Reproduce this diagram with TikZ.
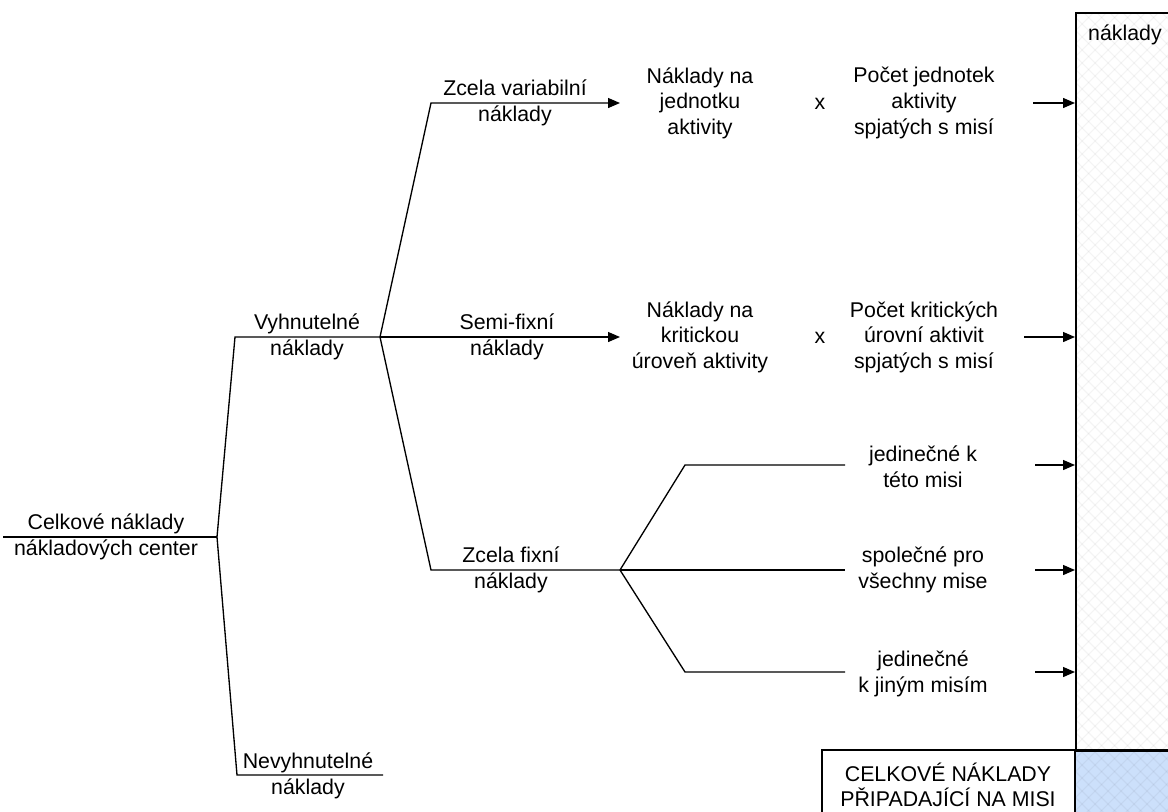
\documentclass[tikz,border=0pt]{standalone}
\usepackage{fontspec}
\setmainfont{Liberation Sans}
\usetikzlibrary{arrows.meta}
\definecolor{missionblue}{HTML}{CCE0FB}
\begin{document}
\begin{tikzpicture}[x=0.75pt,y=-0.75pt,
  lbl/.style={align=center,inner sep=0pt,font=\fontsize{16}{19.2}\selectfont},
  branch/.style={line width=1pt,black},
  feed/.style={line width=1pt,black,-{Stealth[length=9pt,width=7.5pt,inset=0pt]}},
  frame/.style={line width=1.5pt,black}]
\clip (0,0) rectangle (1168,811);
\fill[white] (0,0) rectangle (1168,811);

% ---- hatched totals column ----
\begin{scope}
  \clip (1075,12) rectangle (1200,840);
  \fill[missionblue] (1075,750) rectangle (1200,840);
  \foreach \c in {1080,1093,...,2100}
    \draw[black,opacity=0.045,line width=0.8pt] (\c,0) -- ({\c-840},840);
  \foreach \c in {200,213,...,1200}
    \draw[black,opacity=0.045,line width=0.8pt] (\c,0) -- ({\c+840},840);
\end{scope}
\node[frame,draw,inner sep=0pt,anchor=north west,minimum width=93.75pt,minimum height=553.5pt] (total) at (1075,12) {};
\draw[frame] (822,840) -- (822,750) -- (1200,750);
\draw[frame] (1075,750) -- (1075,840);
\node[lbl] (totlbl) at (1125,35) {náklady};
\node[lbl] (mission) at (948,785) {CELKOVÉ NÁKLADY\\PŘIPADAJÍCÍ NA MISI};

% ---- tree junctions ----
\coordinate (r0) at (3,537);
\coordinate (f0) at (217,537);
\coordinate (v) at (235,337);
\coordinate (v2) at (380,337);
\coordinate (nv) at (237,775);
\coordinate (nv2) at (383,775);
\coordinate (zv) at (431,103);
\coordinate (zvEnd) at (620,103);
\coordinate (sfEnd) at (620,337);
\coordinate (zf) at (431,570);
\coordinate (f1) at (620,570);
\coordinate (u) at (685,465);
\coordinate (uEnd) at (845,465);
\coordinate (cEnd) at (845,570);
\coordinate (o) at (685,672);
\coordinate (oEnd) at (845,672);

\draw[branch] (r0) -- (f0);
\draw[branch] (f0) -- (v) -- (v2);
\draw[branch] (f0) -- (nv) -- (nv2);
\draw[feed] (v2) -- (zv) -- (zvEnd);
\draw[feed] (v2) -- (sfEnd);
\draw[branch] (v2) -- (zf) -- (f1);
\draw[branch] (f1) -- (u) -- (uEnd);
\draw[branch] (f1) -- (cEnd);
\draw[branch] (f1) -- (o) -- (oEnd);

% ---- labels ----
\node[lbl] (root) at (106,537) {Celkové náklady\\nákladových center};
\node[lbl] (vyh) at (307,337) {Vyhnutelné\\náklady};
\node[lbl] (nevyh) at (308,776) {Nevyhnutelné\\náklady};
\node[lbl] (zvar) at (515,103) {Zcela variabilní\\náklady};
\node[lbl] (semi) at (507,337) {Semi-fixní\\náklady};
\node[lbl] (zfix) at (511,570) {Zcela fixní\\náklady};

\node[lbl] (unitcost) at (700,103) {Náklady na\\jednotku\\aktivity};
\node[lbl] (times1) at (820,104) {x};
\node[lbl] (unitcount) at (924,103) {Počet jednotek\\aktivity\\spjatých s misí};

\node[lbl] (critcost) at (700,337) {Náklady na\\kritickou\\úroveň aktivity};
\node[lbl] (times2) at (820,338) {x};
\node[lbl] (critcount) at (924,337) {Počet kritických\\úrovní aktivit\\spjatých s misí};

\node[lbl] (unique) at (923,467) {jedinečné k\\této misi};
\node[lbl] (common) at (923,570) {společné pro\\všechny mise};
\node[lbl] (other) at (923,674) {jedinečné\\k jiným misím};

% ---- feeds into the totals column ----
\coordinate (s1) at (1033,103);
\coordinate (s2) at (1024,337);
\coordinate (s3) at (1035,465);
\coordinate (s4) at (1035,570);
\coordinate (s5) at (1035,672);
\foreach \s in {s1,s2,s3,s4,s5}
  \draw[feed] (\s) -- (\s -| total.west);
\end{tikzpicture}
\end{document}
